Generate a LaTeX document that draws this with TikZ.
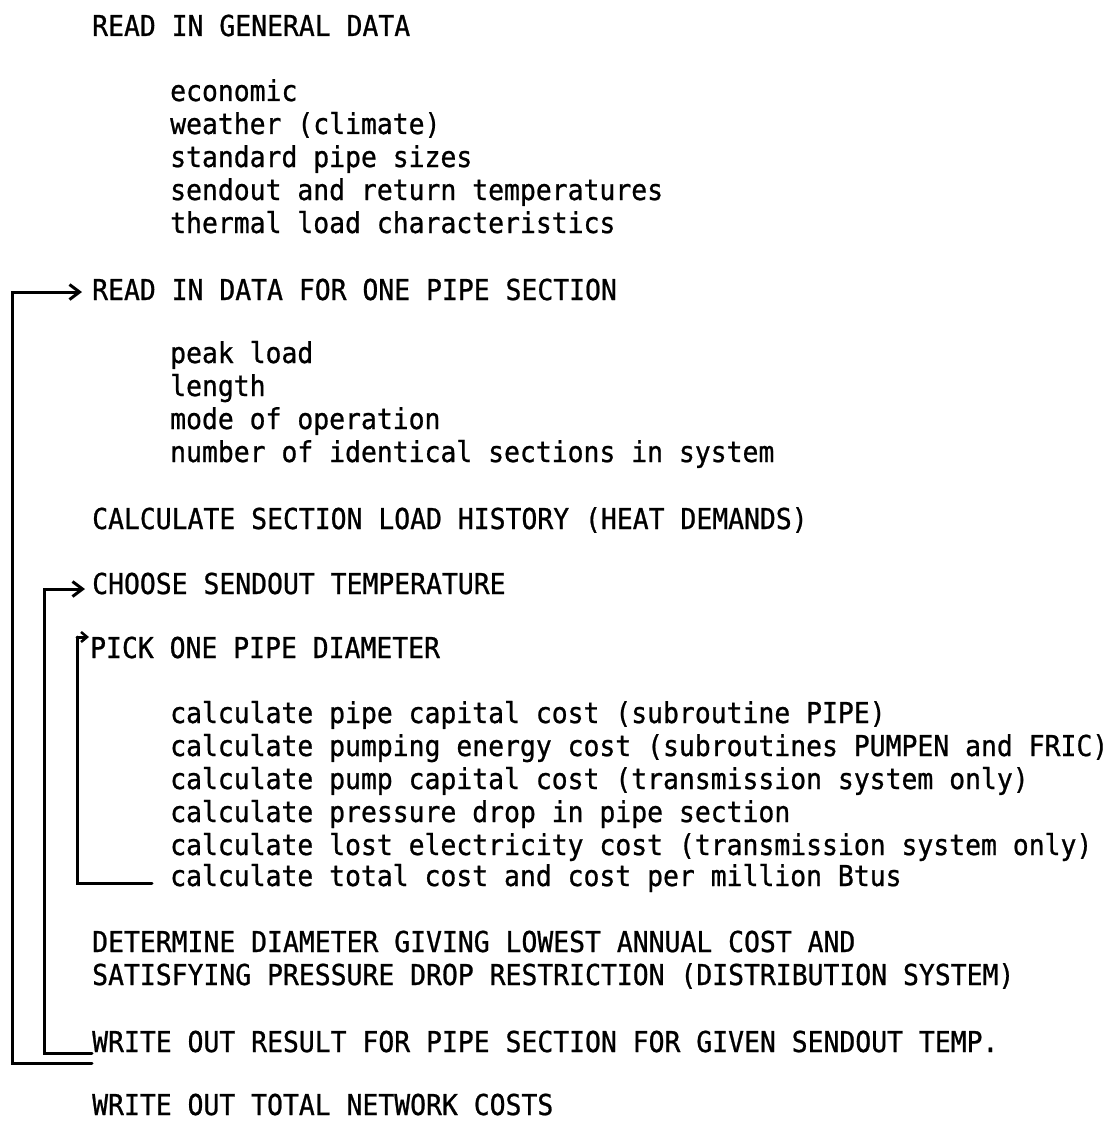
\documentclass[tikz,border=0pt]{standalone}
\usepackage{fontspec}
\setmonofont[FakeStretch=0.917,FakeBold=0.8]{DejaVu Sans Mono}
\usetikzlibrary{arrows.meta}
\begin{document}
\begin{tikzpicture}[x=1pt,y=-1pt,
  txt/.style={anchor=base west,inner sep=0pt,font=\fontsize{28.8}{33}\ttfamily},
  loopline/.style={line width=3pt,line cap=round,line join=miter},
  arr/.style={-{Straight Barb[length=10pt,width=15pt,line width=3pt]}}]
\useasboundingbox (0,0) rectangle (1115,1121);
% main headings
\node[txt] (t1) at (92,36) {READ IN GENERAL DATA};
\node[txt] (a1) at (170,101) {economic};
\node[txt] (a2) at (170,134) {weather (climate)};
\node[txt] (a3) at (170,167) {standard pipe sizes};
\node[txt] (a4) at (170,200) {sendout and return temperatures};
\node[txt] (a5) at (170,233) {thermal load characteristics};
\node[txt] (t2) at (92,300) {READ IN DATA FOR ONE PIPE SECTION};
\node[txt] (b1) at (170,363) {peak load};
\node[txt] (b2) at (170,396) {length};
\node[txt] (b3) at (170,429) {mode of operation};
\node[txt] (b4) at (170,462) {number of identical sections in system};
\node[txt] (t3) at (92,529) {CALCULATE SECTION LOAD HISTORY (HEAT DEMANDS)};
\node[txt] (t4) at (92,594) {CHOOSE SENDOUT TEMPERATURE};
\node[txt] (t5) at (90,658) {PICK ONE PIPE DIAMETER};
\node[txt] (c1) at (170,723) {calculate pipe capital cost (subroutine PIPE)};
\node[txt] (c2) at (170,756) {calculate pumping energy cost (subroutines PUMPEN and FRIC)};
\node[txt] (c3) at (170,789) {calculate pump capital cost (transmission system only)};
\node[txt] (c4) at (170,822) {calculate pressure drop in pipe section};
\node[txt] (c5) at (170,855) {calculate lost electricity cost (transmission system only)};
\node[txt] (c6) at (170,886) {calculate total cost and cost per million Btus};
\node[txt] (t6) at (92,952) {DETERMINE DIAMETER GIVING LOWEST ANNUAL COST AND};
\node[txt] (t7) at (92,985) {SATISFYING PRESSURE DROP RESTRICTION (DISTRIBUTION SYSTEM)};
\node[txt] (t8) at (92,1052) {WRITE OUT RESULT FOR PIPE SECTION FOR GIVEN SENDOUT TEMP.};
\node[txt] (t9) at (92,1115) {WRITE OUT TOTAL NETWORK COSTS};
% loop corners
\coordinate (o1) at (12,1063);
\coordinate (o2) at (12,292);
\coordinate (m1) at (44,1053);
\coordinate (m2) at (44,589);
\coordinate (i1) at (77,883);
\coordinate (i2) at (77,637);
% outer loop
\draw[loopline,arr] (t8.south west |- o1) -- (o1) -- (o2) -- ([xshift=-10pt]t2.west |- o2);
% middle loop
\draw[loopline,arr] (t8.base west |- m1) -- (m1) -- (m2) -- ([xshift=-7pt]t4.west |- m2);
% inner loop
\draw[loopline] ([xshift=-18pt]c6.base west |- i1) -- (i1) -- (i2);
\draw[loopline,-{Straight Barb[length=6pt,width=10pt,line width=2.5pt]}] (i2) -- ([xshift=-1pt]t5.west |- i2);
\end{tikzpicture}
\end{document}
